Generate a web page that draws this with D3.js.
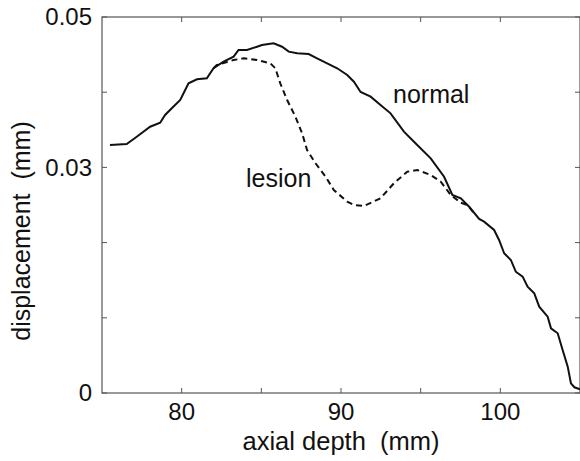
<!DOCTYPE html>
<html>
<head>
<meta charset="utf-8">
<script src="https://cdn.jsdelivr.net/npm/d3@7"></script>
<style>
  body { margin: 0; background: #fff; }
  svg { display: block; font-family: "Liberation Sans", Arial, sans-serif; }
</style>
</head>
<body>
<svg id="chart" width="580" height="461"></svg>
<script>
// axial depth (mm) and displacement (mm)
var normalDepth = [75.5, 76.55, 77.18, 78.02, 78.65, 78.96, 79.38, 79.91, 80.22, 80.43, 80.96, 81.58, 82.0, 82.63, 83.26, 83.57, 84.1, 84.73, 85.04, 85.77, 86.3, 86.72, 87.25, 87.97, 88.5, 89.13, 89.76, 90.39, 90.81, 91.23, 91.86, 92.48, 93.11, 93.95, 94.58, 95.63, 96.47, 96.99, 97.52, 98.04, 98.67, 98.98, 99.61, 99.92, 100.24, 100.66, 100.97, 101.4, 101.71, 102.13, 102.44, 102.97, 103.18, 103.6, 103.91, 104.23, 104.43, 104.65, 105.0]
var normalDisp = [0.03298, 0.03311, 0.03408, 0.03541, 0.03594, 0.03697, 0.03786, 0.03896, 0.04029, 0.04118, 0.04172, 0.04185, 0.04318, 0.04406, 0.04472, 0.04561, 0.04561, 0.04605, 0.04628, 0.0465, 0.04605, 0.04539, 0.04517, 0.04508, 0.04451, 0.04384, 0.04318, 0.04229, 0.0414, 0.04003, 0.0394, 0.0383, 0.03719, 0.03475, 0.03342, 0.03121, 0.02876, 0.02633, 0.02589, 0.02477, 0.02314, 0.02278, 0.02168, 0.02035, 0.01858, 0.01769, 0.01613, 0.01547, 0.01414, 0.01326, 0.01148, 0.01015, 0.0086, 0.00794, 0.00572, 0.0035, 0.00129, 0.00076, 0.00049]

var lesionDepth = [82.0, 82.21, 83.26, 83.89, 84.73, 85.57, 85.88, 86.19, 86.62, 87.14, 87.56, 87.87, 88.4, 89.03, 89.55, 90.39, 90.81, 91.43, 92.48, 93.32, 94.16, 94.79, 95.63, 96.26, 96.89, 97.52, 97.94, 98.35]
var lesionDisp = [0.04318, 0.04362, 0.04428, 0.04451, 0.04428, 0.04384, 0.04318, 0.04118, 0.03896, 0.03674, 0.03453, 0.03231, 0.03055, 0.02876, 0.02699, 0.02544, 0.025, 0.02487, 0.02589, 0.02789, 0.02943, 0.02965, 0.02899, 0.0281, 0.02633, 0.02531, 0.025, 0.0239]

var xTicks = [80, 85, 90, 95, 100]
  , xTickLabels = [80, 90, 100]
  , yTicks = [0, 0.01, 0.02, 0.03, 0.04, 0.05]
  , yTickLabels = [0, 0.03, 0.05]

var svg = d3.select('#chart')
  , pLeft = 102, pRight = 580, pTop = 17, pBottom = 393
  , tickLen = 5

var x = d3.scaleLinear().domain([75, 105]).range([pLeft, pRight])
  , y = d3.scaleLinear().domain([0, 0.05]).range([pBottom, pTop])

var ink = '#111'
  , frame = '#555'

// frame
svg.append('rect')
  .attr('x', pLeft).attr('y', pTop)
  .attr('width', pRight - pLeft).attr('height', pBottom - pTop)
  .attr('fill', 'none').attr('stroke', frame).attr('stroke-width', 1.2)

// inward ticks on all four sides
var tickG = svg.append('g').attr('stroke', frame).attr('stroke-width', 1)
xTicks.forEach(function(t) {
  tickG.append('line').attr('x1', x(t)).attr('x2', x(t)).attr('y1', pBottom).attr('y2', pBottom - tickLen)
  tickG.append('line').attr('x1', x(t)).attr('x2', x(t)).attr('y1', pTop).attr('y2', pTop + tickLen)
})
yTicks.forEach(function(t) {
  tickG.append('line').attr('x1', pLeft).attr('x2', pLeft + tickLen).attr('y1', y(t)).attr('y2', y(t))
  tickG.append('line').attr('x1', pRight).attr('x2', pRight - tickLen).attr('y1', y(t)).attr('y2', y(t))
})

// tick labels
svg.selectAll('text.xlab').data(xTickLabels)
  .enter().append('text').classed('xlab', true)
  .attr('x', function(d) { return x(d) })
  .attr('y', 420)
  .attr('text-anchor', 'middle')
  .attr('font-size', 24).attr('fill', ink)
  .text(function(d) { return d })

svg.selectAll('text.ylab').data(yTickLabels)
  .enter().append('text').classed('ylab', true)
  .attr('x', pLeft - 10)
  .attr('y', function(d) { return y(d) })
  .attr('dy', '0.35em')
  .attr('text-anchor', 'end')
  .attr('font-size', 24).attr('fill', ink)
  .text(function(d) { return d === 0 ? '0' : d.toFixed(2) })

// axis titles
svg.append('text')
  .attr('x', 341).attr('y', 450)
  .attr('text-anchor', 'middle')
  .attr('font-size', 25.5).attr('fill', ink)
  .style('white-space', 'pre')
  .text('axial depth  (mm)')

svg.append('text')
  .attr('transform', 'translate(30,231) rotate(-90)')
  .attr('text-anchor', 'middle')
  .attr('font-size', 25).attr('fill', ink)
  .style('white-space', 'pre')
  .text('displacement  (mm)')

// curves
var line = d3.line()
  .x(function(d) { return x(d[0]) })
  .y(function(d) { return y(d[1]) })

svg.append('path')
  .datum(d3.zip(normalDepth, normalDisp))
  .attr('d', line)
  .attr('fill', 'none').attr('stroke', ink).attr('stroke-width', 2)

svg.append('path')
  .datum(d3.zip(lesionDepth, lesionDisp))
  .attr('d', line)
  .attr('fill', 'none').attr('stroke', ink).attr('stroke-width', 2)
  .attr('stroke-dasharray', '6,4')

// curve labels
svg.append('text')
  .attr('x', 393).attr('y', 103)
  .attr('font-size', 25).attr('fill', ink)
  .text('normal')

svg.append('text')
  .attr('x', 246).attr('y', 187)
  .attr('font-size', 25).attr('fill', ink)
  .text('lesion')
</script>
</body>
</html>
